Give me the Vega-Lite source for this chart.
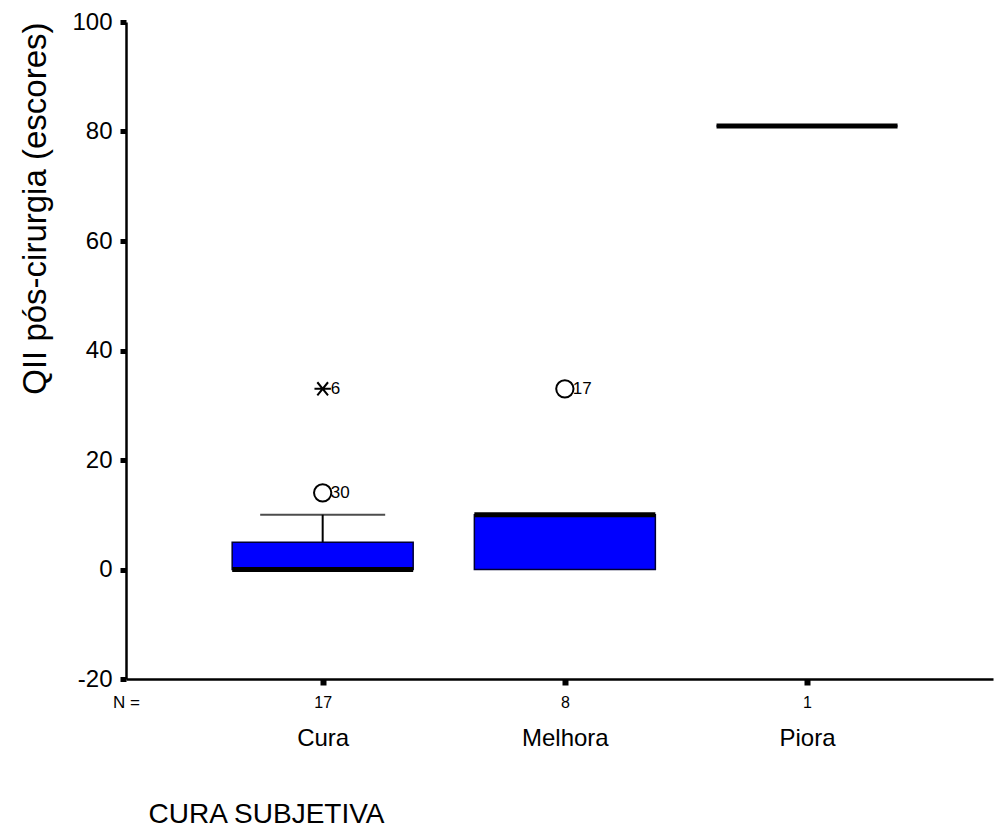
{
  "$schema": "https://vega.github.io/schema/vega-lite/v6.json",
  "autosize": {"type": "none"},
  "width": 867,
  "height": 657,
  "padding": {"left": 126, "top": 22, "right": 1, "bottom": 151},
  "background": "white",
  "datasets": {
    "boxes": [
      {"cat": "Cura", "q1": 0, "q3": 5, "med": 0, "lo": 0, "hi": 10, "n": 17},
      {"cat": "Melhora", "q1": 0, "q3": 10, "med": 10, "lo": 0, "hi": 10, "n": 8},
      {"cat": "Piora", "q1": 81, "q3": 81, "med": 81, "lo": 81, "hi": 81, "n": 1}
    ],
    "outliers": [
      {"cat": "Cura", "value": 14, "case": "30", "kind": "outlier"},
      {"cat": "Cura", "value": 33, "case": "6", "kind": "extreme"},
      {"cat": "Melhora", "value": 33, "case": "17", "kind": "outlier"}
    ]
  },
  "layer": [
    {
      "data": {"name": "boxes"},
      "mark": {"type": "rule", "color": "black", "strokeWidth": 2},
      "encoding": {
        "x": {
          "field": "cat", "type": "nominal", "sort": ["Cura", "Melhora", "Piora"],
          "scale": {"type": "point", "padding": 0.79, "align": 0.514},
          "axis": {
            "orient": "bottom",
            "labelExpr": "datum.value == 'Cura' ? '17' : datum.value == 'Melhora' ? '8' : '1'",
            "labelFontSize": 16, "labelPadding": 9, "labelAngle": 0,
            "ticks": true, "tickSize": 6, "tickWidth": 6, "tickColor": "black",
            "domain": true, "domainWidth": 2.5, "domainColor": "black",
            "title": "N =", "titleFontSize": 17, "titleX": 0, "titleY": 28,
            "titleAlign": "center", "titleBaseline": "alphabetic", "titleFontWeight": "normal"
          }
        },
        "y": {"field": "lo", "type": "quantitative",
              "scale": {"domain": [-20, 100], "nice": false, "zero": false},
              "axis": {
                "title": "QII pós-cirurgia (escores)",
                "values": [-20, 0, 20, 40, 60, 80, 100],
                "labelExpr": "datum.value < 0 ? '-' + abs(datum.value) : '' + datum.value",
                "domainWidth": 2.5, "domainColor": "black",
                "ticks": true, "tickSize": 6, "tickWidth": 5, "tickColor": "black",
                "labelFontSize": 24, "labelPadding": 8,
                "titleFontSize": 33, "titleAngle": -90, "titleX": -91, "titleY": 0,
                "titleAlign": "right", "titleBaseline": "middle", "titleFontWeight": "normal"
              }},
        "y2": {"field": "hi"}
      }
    },
    {
      "data": {"name": "boxes"},
      "mark": {"type": "tick", "color": "black", "size": 125, "thickness": 2},
      "encoding": {
        "x": {"field": "cat", "type": "nominal", "sort": ["Cura", "Melhora", "Piora"], "axis": null},
        "y": {"field": "hi", "type": "quantitative", "title": "QII pós-cirurgia (escores)"}
      }
    },
    {
      "data": {"name": "boxes"},
      "mark": {"type": "bar", "width": 181, "fill": "#0000FF", "stroke": "#000033", "strokeWidth": 1.5},
      "encoding": {
        "x": {
          "field": "cat", "type": "nominal", "sort": ["Cura", "Melhora", "Piora"],
          "axis": {
            "orient": "bottom", "domain": false, "ticks": false,
            "labelFontSize": 24, "labelPadding": 47, "labelAngle": 0,
            "title": "CURA SUBJETIVA", "titleFontSize": 28, "titleX": 22, "titleY": 143,
            "titleAlign": "left", "titleBaseline": "alphabetic", "titleFontWeight": "normal"
          }
        },
        "y": {"field": "q1", "type": "quantitative", "title": "QII pós-cirurgia (escores)"},
        "y2": {"field": "q3"}
      }
    },
    {
      "data": {"name": "boxes"},
      "mark": {"type": "tick", "color": "black", "size": 181, "thickness": 5, "opacity": 1},
      "encoding": {
        "x": {"field": "cat", "type": "nominal", "sort": ["Cura", "Melhora", "Piora"], "axis": null},
        "y": {"field": "med", "type": "quantitative", "title": "QII pós-cirurgia (escores)"}
      }
    },
    {
      "data": {"name": "outliers"},
      "transform": [{"filter": "datum.kind == 'outlier'"}],
      "mark": {"type": "point", "shape": "circle", "filled": false, "stroke": "black", "strokeWidth": 2, "size": 300, "opacity": 1},
      "encoding": {
        "x": {"field": "cat", "type": "nominal", "sort": ["Cura", "Melhora", "Piora"], "axis": null},
        "y": {"field": "value", "type": "quantitative", "title": "QII pós-cirurgia (escores)"}
      }
    },
    {
      "data": {"name": "outliers"},
      "transform": [{"filter": "datum.kind == 'extreme'"}],
      "mark": {"type": "point", "shape": "M-1,0L1,0M-0.65,-0.8L0.65,0.8M-0.65,0.8L0.65,-0.8", "filled": false, "stroke": "black", "strokeWidth": 2, "size": 270, "opacity": 1},
      "encoding": {
        "x": {"field": "cat", "type": "nominal", "sort": ["Cura", "Melhora", "Piora"], "axis": null},
        "y": {"field": "value", "type": "quantitative", "title": "QII pós-cirurgia (escores)"}
      }
    },
    {
      "data": {"name": "outliers"},
      "mark": {"type": "text", "align": "left", "baseline": "middle", "dx": 8, "fontSize": 17, "font": "Liberation Sans", "color": "black"},
      "encoding": {
        "x": {"field": "cat", "type": "nominal", "sort": ["Cura", "Melhora", "Piora"], "axis": null},
        "y": {"field": "value", "type": "quantitative", "title": "QII pós-cirurgia (escores)"},
        "text": {"field": "case"}
      }
    }
  ],
  "resolve": {"axis": {"x": "independent"}},
  "config": {
    "view": {"stroke": null},
    "font": "Liberation Sans",
    "axis": {
      "grid": false,
      "labelFont": "Liberation Sans", "titleFont": "Liberation Sans",
      "labelColor": "black", "titleColor": "black",
      "domainColor": "black", "tickColor": "black", "titleFontWeight": "normal"
    }
  }
}
